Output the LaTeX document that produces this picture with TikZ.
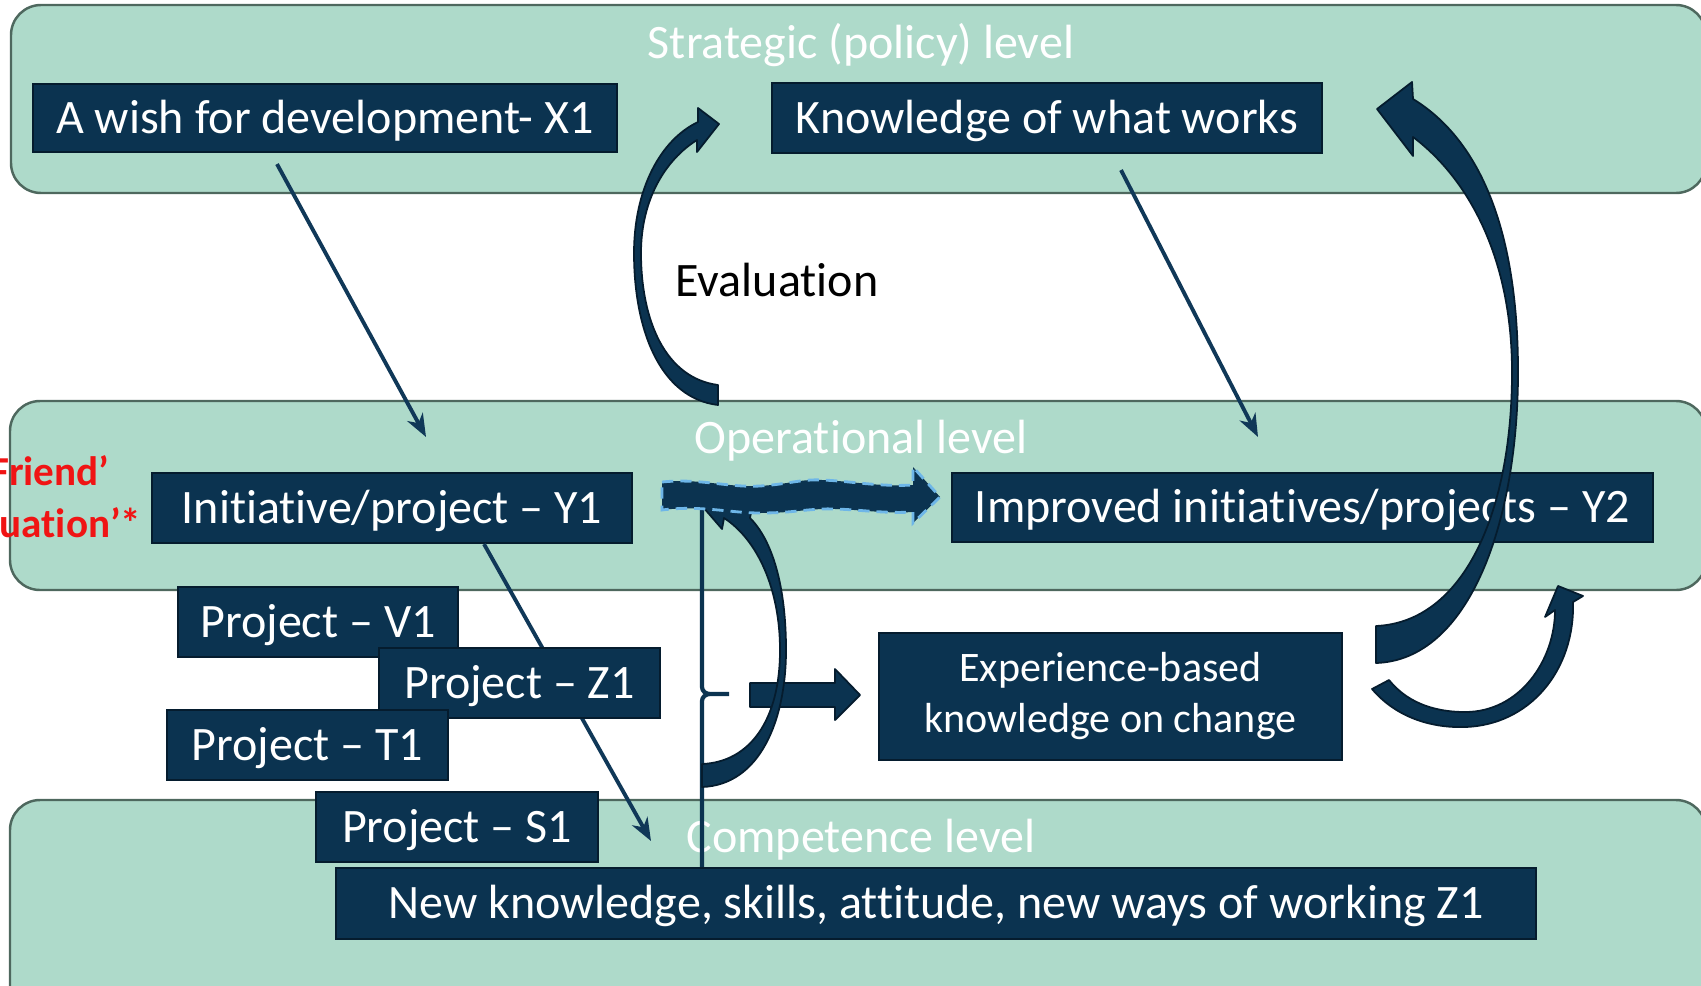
\documentclass[tikz,border=0pt]{standalone}
\usepackage{fontspec}
\setmainfont{Carlito}[Ligatures=NoCommon]
\usetikzlibrary{arrows.meta,fit,calc}

\definecolor{bandfill}{RGB}{174,218,202}
\definecolor{banddraw}{RGB}{78,104,94}
\definecolor{navy}{RGB}{11,51,80}
\definecolor{navyedge}{RGB}{5,28,46}
\definecolor{linknavy}{RGB}{16,56,88}
\definecolor{dashblue}{RGB}{110,182,232}
\definecolor{notered}{RGB}{240,20,20}

\tikzset{
  band/.style={fill=bandfill, draw=banddraw, line width=0.7pt,
    rounded corners=0.3cm, inner sep=0pt},
  bigfont/.style={font=\fontsize{13.66pt}{16pt}\selectfont},
  bandlabel/.style={bigfont, text=white, anchor=base, inner sep=0pt},
  navybase/.style={fill=navy, draw=navyedge, line width=0.6pt,
    inner sep=0pt, text=white},
  navybox/.style={navybase, bigfont, text height=8.8pt, text depth=0pt},
  link/.style={draw=linknavy, line width=1.1pt,
    -{Stealth[length=6.5pt,width=5pt,inset=2pt]}},
  blockarrow/.style={fill=navy, draw=navyedge, line width=0.5pt, line join=round},
  bracestroke/.style={draw=navy, line width=1.2pt, line join=round},
  redtext/.style={text=notered, font=\fontsize{11.7pt}{14pt}\selectfont\bfseries,
    inner sep=0pt},
}

\begin{document}
\begin{tikzpicture}[x=0.01cm,y=-0.01cm]
\useasboundingbox (0,0) rectangle (1701,985);

% the three level bands
\node[band, fit={(11,5)(1706,193)}] (strategic) {};
\node[band, fit={(10,401)(1706,590)}] (operational) {};
\node[band, fit={(10,800)(1706,1020)}] (competence) {};

\node[bandlabel] (strategicLbl) at (861,59) {Strategic (policy) level};
\node[bandlabel] (operationalLbl) at (861,453) {Operational level};
\node[bandlabel] (competenceLbl) at (861,852) {Competence level};

% side note in red
\node[redtext, anchor=base east] (friendTxt) at (110,485) {Friend’};
\node[redtext, anchor=base east] (uationTxt) at (142,537) {uation’*};

\node[bigfont, anchor=base, inner sep=0pt] (evalLbl) at (777,296) {Evaluation};

% boxes placed up front so the thin links can refer to them
\node[navybox, minimum width=5.84cm, minimum height=0.68cm] (wish) at (325,118)
  {A wish for development- X1};
\node[navybox, minimum width=5.50cm, minimum height=0.70cm] (works) at (1047,118)
  {Knowledge of what works};
\coordinate (opEntryL) at (426,437);
\coordinate (opEntryR) at (1258,437);
\coordinate (compEntry) at (651,841);

% thin links
\draw[link] ($(wish.south)+(-48,11)$) -- (opEntryL);
\draw[link] ($(works.south)+(74,16)$) -- (opEntryR);
\node[navybox, minimum width=4.80cm, minimum height=0.70cm] (y1) at (392,508)
  {Initiative/project – Y1};
\draw[link] ($(y1.south)+(92,0)$) -- (compEntry);

% remaining boxes
\node[navybox, minimum width=7.01cm, minimum height=0.69cm] (y2) at (1302.5,507.5)
  {Improved initiatives/projects – Y2};
\node[navybox, minimum width=2.80cm, minimum height=0.70cm] (v1) at (318,622)
  {Project – V1};
\node[navybox, minimum width=2.81cm, minimum height=0.70cm] (z1p) at (519.5,683)
  {Project – Z1};
\node[navybox, minimum width=2.81cm, minimum height=0.70cm] (t1) at (307.5,745)
  {Project – T1};
\node[navybox, minimum width=2.82cm, minimum height=0.70cm] (s1) at (457,827)
  {Project – S1};
\node[navybox, minimum width=12.00cm, minimum height=0.71cm] (newk) at (936,903.5)
  {New knowledge, skills, attitude, new ways of working Z1};
\node[navybase, minimum width=4.63cm, minimum height=1.27cm, align=center,
      font=\fontsize{11.95pt}{14.5pt}\selectfont] (exp) at (1110.5,696.5)
  {Experience-based\\knowledge on change};

% brace gathering the projects
\coordinate (braceTop) at (702,507);
\draw[bracestroke] (braceTop) -- (702,687) to[out=-90,in=180] (710,694) -- (729,694)
  (710,694) to[out=180,in=90] (702,701) -- (braceTop |- newk.north);

% straight block arrow into the experience box
\draw[blockarrow] (750,683) -- (835,683) -- (835,669) -- (860,695)
  -- (835,720) -- (835,707) -- (750,707) -- cycle;

% curved arrow looping back up to the initiative flow
\draw[blockarrow] (702,787) .. controls (760,785) and (786,720) .. (786,650)
  .. controls (786,585) and (772,540) .. (750,518) -- (752,507) -- (703,507)
  -- (722,529) -- (724,518) .. controls (758,540) and (780,590) .. (780,650)
  .. controls (780,720) and (750,762) .. (702,764) -- cycle;

% wavy arrow from Y1 to Y2
\draw[fill=navy, draw=dashblue, line width=0.8pt, dash pattern=on 3.2pt off 2pt]
  (662,482) .. controls (700,478) and (730,488) .. (760,486)
  .. controls (790,484) and (800,479) .. (822,480)
  .. controls (850,481) and (880,487) .. (913,485) -- (913,467) -- (940,497)
  -- (913,523) -- (913,512) .. controls (880,514) and (850,508) .. (822,509)
  .. controls (800,510) and (790,513) .. (760,513)
  .. controls (730,513) and (700,505) .. (662,510) -- cycle;

% evaluation arrow
\draw[blockarrow] (718,405) .. controls (660,398) and (634,330) .. (634,253)
  .. controls (634,190) and (660,140) .. (698,122) -- (698,108) -- (719,124)
  -- (697,152) -- (697,140) .. controls (665,160) and (641,200) .. (641,253)
  .. controls (641,320) and (665,378) .. (718,385) -- cycle;

% large arrow from experience to strategic knowledge
\draw[blockarrow] (1376,663) .. controls (1470,660) and (1518,520) .. (1518,372)
  .. controls (1518,230) and (1480,140) .. (1413,99) -- (1412,82) -- (1377,109)
  -- (1413,156) -- (1413,137) .. controls (1470,180) and (1512,260) .. (1512,372)
  .. controls (1512,510) and (1465,622) .. (1376,626) -- cycle;

% small arrow from experience to improved initiatives
\draw[blockarrow] (1372,689) .. controls (1400,722) and (1440,728) .. (1465,727)
  .. controls (1530,725) and (1575,670) .. (1573,602) -- (1583,596) -- (1558,586)
  -- (1545,617) -- (1555,610) .. controls (1555,660) and (1520,712) .. (1465,712)
  .. controls (1430,712) and (1405,700) .. (1389,680) -- cycle;

\end{tikzpicture}
\end{document}
